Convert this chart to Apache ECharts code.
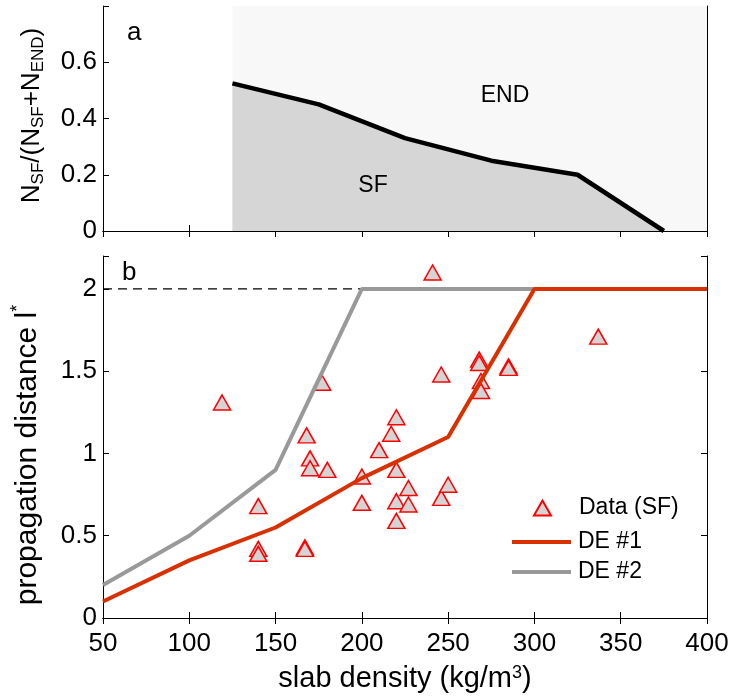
<!DOCTYPE html>
<html><head><meta charset="utf-8">
<script src="https://cdn.jsdelivr.net/npm/echarts@6/dist/echarts.min.js"></script>
<style>html,body{margin:0;padding:0;background:#fff}#c{width:731px;height:697px}</style>
</head><body><div id="c"></div>
<script>
// ---- data ----
const fracX = [125, 175, 225, 275, 325, 375];
const fracY = [0.525, 0.45, 0.33, 0.25, 0.2, 0];
const endRegionX = [125, 400];
const endRegionY = [0.8, 0.8];
const de1X = [50, 100, 150, 200, 250, 300, 350, 400];
const de1Y = [0.1, 0.35, 0.55, 0.85, 1.1, 2, 2, 2];
const de2X = [50, 100, 150, 200, 250, 300, 350, 400];
const de2Y = [0.2, 0.5, 0.9, 2, 2, 2, 2, 2];
const limitX = [50, 400];
const limitY = [2, 2];
const sfX = [119, 140, 140, 140, 167, 167, 168, 170, 170, 180, 177, 200, 200, 210, 217, 220, 220, 220, 220, 227, 227, 241, 246, 246, 250, 268, 268, 269, 269, 285, 285, 337];
const sfY = [1.31, 0.68, 0.42, 0.39, 0.43, 0.42, 1.11, 0.97, 0.91, 0.90, 1.43, 0.86, 0.70, 1.02, 1.12, 1.22, 0.90, 0.71, 0.59, 0.79, 0.69, 2.10, 1.48, 0.73, 0.81, 1.57, 1.55, 1.44, 1.38, 1.53, 1.52, 1.71];
const xMin = 50, xMax = 400, xStep = 50;
const yTopMax = 0.8, yTopStep = 0.2;
const yBotMax = 2.2, yBotStep = 0.5;

const zip = (a, b) => a.map((v, i) => [v, b[i]]);
const FONT = '"Liberation Sans", Arial, Helvetica, sans-serif';
const axisLine = { show: true, lineStyle: { color: '#000', width: 1 } };
const tick = { show: true, inside: true, length: 6, lineStyle: { color: '#000', width: 1 } };

function xAx(grid, pos, labels) {
  return {
    type: 'value', gridIndex: grid, position: pos, min: xMin, max: xMax, interval: xStep,
    axisLine, axisTick: tick, splitLine: { show: false },
    axisLabel: { show: labels, fontSize: 26, color: '#000', fontFamily: FONT, margin: 13 }
  };
}
function yAx(grid, pos, max, step, labels) {
  return {
    type: 'value', gridIndex: grid, position: pos, min: 0, max: max, interval: step,
    axisLine, axisTick: tick, splitLine: { show: false },
    axisLabel: {
      show: labels, fontSize: 26, color: '#000', fontFamily: FONT, margin: 6,
      formatter: v => (Math.abs(v / step - Math.round(v / step)) < 1e-6 && v < max - 1e-9) ? String(+v.toFixed(2)) : ''
    }
  };
}

const xs = [xAx(0, 'bottom', false), xAx(0, 'top', false), xAx(1, 'bottom', true), xAx(1, 'top', false)];
xs[2].name = 'slab density (kg/m{sup|3})';
xs[2].nameLocation = 'middle';
xs[2].nameGap = 46;
xs[2].nameTextStyle = {
  fontSize: 29, color: '#000', fontFamily: FONT,
  rich: { sup: { fontSize: 18, fontFamily: FONT, color: '#000', verticalAlign: 'top', lineHeight: 18 } }
};

const ys = [yAx(0, 'left', yTopMax, yTopStep, true), yAx(0, 'right', yTopMax, yTopStep, false),
            yAx(1, 'left', yBotMax, yBotStep, true), yAx(1, 'right', yBotMax, yBotStep, false)];
ys[0].name = '{m|N}{s|SF}{m|/(N}{s|SF}{m|+N}{s|END}{m|)}';
ys[0].nameLocation = 'middle';
ys[0].nameGap = 56;
ys[0].nameTextStyle = {
  fontSize: 26, color: '#000', fontFamily: FONT, padding: [0, 0, 0, 6],
  rich: {
    m: { fontSize: 26, fontFamily: FONT, color: '#000', lineHeight: 28, verticalAlign: 'top' },
    s: { fontSize: 17, fontFamily: FONT, color: '#000', lineHeight: 17, verticalAlign: 'bottom' }
  }
};
ys[2].name = 'propagation distance l{sup|*}';
ys[2].nameLocation = 'middle';
ys[2].nameGap = 56;
ys[2].nameTextStyle = {
  fontSize: 30, color: '#000', fontFamily: FONT, lineHeight: 38, verticalAlign: 'bottom',
  padding: [0, 36, 0, 0],
  rich: { sup: { fontSize: 18, fontFamily: FONT, color: '#000', verticalAlign: 'top', lineHeight: 18 } }
};

const option = {
  animation: false,
  backgroundColor: '#fff',
  grid: [
    { left: 103, top: 6, width: 604, height: 225, outerBoundsMode: 'none', containLabel: false },
    { left: 103, top: 256, width: 604, height: 362, outerBoundsMode: 'none', containLabel: false }
  ],
  xAxis: xs,
  yAxis: ys,
  legend: [
    {
      orient: 'vertical', left: 533, top: 495, padding: 0, itemWidth: 17, itemHeight: 15, itemGap: 4,
      textStyle: { fontSize: 23, color: '#000', fontFamily: FONT, lineHeight: 26, padding: [0, 0, 0, 23] },
      data: [{ name: 'Data (SF)', icon: 'triangle' }]
    },
    {
      orient: 'vertical', left: 512, top: 529, padding: 0, itemWidth: 59, itemHeight: 4, itemGap: 4,
      textStyle: { fontSize: 23, color: '#000', fontFamily: FONT, lineHeight: 26, padding: [0, 0, 0, 2] },
      data: [{ name: 'DE #1', icon: 'rect' }, { name: 'DE #2', icon: 'rect' }]
    }
  ],
  graphic: [
    { type: 'text', left: 127, top: 20, style: { text: 'a', fontSize: 26, fill: '#000', fontFamily: FONT } },
    { type: 'text', left: 122, top: 260, style: { text: 'b', fontSize: 26, fill: '#000', fontFamily: FONT } },
    { type: 'text', x: 505, y: 96, style: { text: 'END', fontSize: 23, fill: '#000', fontFamily: FONT, align: 'center', verticalAlign: 'middle' }, z: 50 },
    { type: 'text', x: 373, y: 186, style: { text: 'SF', fontSize: 23, fill: '#000', fontFamily: FONT, align: 'center', verticalAlign: 'middle' }, z: 50 }
  ],
  series: [
    { type: 'line', xAxisIndex: 0, yAxisIndex: 0, data: zip(endRegionX, endRegionY), symbol: 'none',
      lineStyle: { width: 0 }, areaStyle: { color: '#f8f8f8', opacity: 1 }, z: 1, silent: true },
    { type: 'line', xAxisIndex: 0, yAxisIndex: 0, data: zip(fracX, fracY), symbol: 'none',
      lineStyle: { width: 4.5, color: '#000' }, areaStyle: { color: '#d6d6d6', opacity: 1 }, z: 2, silent: true },
    { name: 'Data (SF)', type: 'scatter', xAxisIndex: 2, yAxisIndex: 2, data: zip(sfX, sfY),
      symbol: 'triangle', symbolSize: [17, 15],
      itemStyle: { color: '#d4d4d4', borderColor: '#ff0000', borderWidth: 1.5, opacity: 1 }, z: 2 },
    { type: 'line', xAxisIndex: 2, yAxisIndex: 2, data: zip(limitX, limitY), symbol: 'none',
      lineStyle: { width: 1.3, color: '#000', type: [9, 6] }, z: 1, silent: true },
    { name: 'DE #2', type: 'line', xAxisIndex: 2, yAxisIndex: 2, data: zip(de2X, de2Y), symbol: 'none',
      color: '#999999', lineStyle: { width: 4, color: '#999999' }, z: 3 },
    { name: 'DE #1', type: 'line', xAxisIndex: 2, yAxisIndex: 2, data: zip(de1X, de1Y), symbol: 'none',
      color: '#d93000', lineStyle: { width: 4, color: '#d93000' }, z: 4 }
  ]
};
const chart = echarts.init(document.getElementById('c'), null, { renderer: 'canvas' });
chart.setOption(option);
</script></body></html>
